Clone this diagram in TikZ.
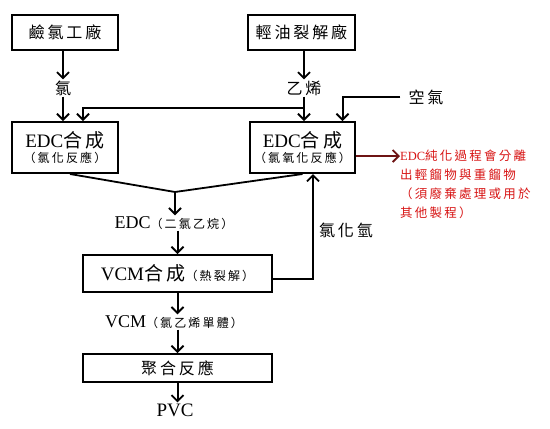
\documentclass[tikz,border=0pt]{standalone}
\usepackage{fontspec}
\setmainfont{Liberation Serif}
\newfontfamily\cjk[LetterSpace=18]{Noto Sans CJK TC}
\usetikzlibrary{arrows.meta}
\definecolor{notered}{RGB}{215,20,20}
\definecolor{arrred}{RGB}{110,20,20}
\tikzset{
  box/.style={draw, line width=2pt, inner sep=0pt, align=center},
  lbl/.style={inner sep=1pt, align=center},
  arr/.style={line width=2pt, -{Straight Barb[length=6pt,width=12pt,line width=1.8pt]}},
  ln/.style={line width=1.8pt},
}
\newcommand{\bigcjk}[1]{{\fontsize{16}{18}\selectfont\cjk #1}}
\newcommand{\smcjk}[1]{{\fontsize{12}{14}\selectfont\cjk #1}}
\begin{document}
\begin{tikzpicture}[x=1pt,y=-1pt]
\useasboundingbox (0,0) rectangle (550,429);
% boxes
\node[box, minimum width=106pt, minimum height=35pt] (b1) at (65,32.5) {\bigcjk{鹼氯工廠}};
\node[box, minimum width=107pt, minimum height=35pt] (b2) at (301.5,32.5) {\bigcjk{輕油裂解廠}};
\node[box, minimum width=106pt, minimum height=51pt] (e1) at (65,147.5)
  {{\fontsize{19}{20}\selectfont EDC{\cjk 合成}}\\[3pt]\smcjk{（氯化反應）}};
\node[box, minimum width=105pt, minimum height=51pt] (e2) at (302.5,147.5)
  {{\fontsize{19}{20}\selectfont EDC{\cjk 合成}}\\[3pt]\smcjk{（氯氧化反應）}};
\node[box, minimum width=189pt, minimum height=37pt] (vcm) at (177.5,273.5)
  {{\fontsize{19}{20}\selectfont VCM{\cjk 合成}}\smcjk{（熱裂解）}};
\node[box, minimum width=189pt, minimum height=28pt] (poly) at (177.5,368) {\bigcjk{聚合反應}};
% labels
\node[lbl] (cl) at (63,88) {\bigcjk{氯}};
\node[lbl] (et) at (304,88) {\bigcjk{乙烯}};
\node[lbl] (air) at (426,97) {\bigcjk{空氣}};
\node[lbl] (hcl) at (346,230) {\bigcjk{氯化氫}};
\node[lbl] (edc) at (174,223) {{\fontsize{18}{20}\selectfont EDC}\smcjk{（二氯乙烷）}};
\node[lbl] (vcml) at (174,322) {{\fontsize{18}{20}\selectfont VCM}\smcjk{（氯乙烯單體）}};
\node[lbl] (pvc) at (175,410) {{\fontsize{19}{20}\selectfont PVC}};
\node[anchor=north west, inner sep=0pt, align=left, text=notered, font=\fontsize{12.5}{19}\selectfont] (note) at (400,150)
  {EDC{\cjk 純化過程會分離}\\{\cjk 出輕餾物與重餾物}\\{\cjk （須廢棄處理或用於}\\{\cjk 其他製程）}};
% coordinates
\coordinate (j1) at (304,108);
\coordinate (m) at (175,192);
% connectors
\draw[arr] (b1.south -| cl) -- (cl.north);
\draw[arr] (cl.south) -- (cl.south |- e1.north);
\draw[arr] (b2.south -| et) -- (et.north);
\draw[arr] (et.south) -- (et.south |- e2.north);
\draw[arr] (j1) -| ([xshift=18pt]e1.north);
\draw[arr] ([xshift=-7pt]air.west) -| ([xshift=40pt]e2.north);
\draw[arr, draw=arrred] ([yshift=-8.5pt]e2.east) -- ([yshift=-8.5pt]e2.east -| note.west);
\draw[ln] ([xshift=5pt]e1.south) -- (m) -- (e2.south);
\draw[arr] (m) -- (m |- edc.north);
\draw[arr] (edc.south -| vcm) -- (vcm.north);
\draw[arr] (vcm.south) -- (vcm.south |- vcml.north);
\draw[arr] (vcml.south -| poly) -- (poly.north);
\draw[arr] (poly.south) -- (poly.south |- pvc.north);
\draw[arr] ([yshift=-5.5pt]vcm.east) -| ([xshift=10.5pt]e2.south);
\end{tikzpicture}
\end{document}
